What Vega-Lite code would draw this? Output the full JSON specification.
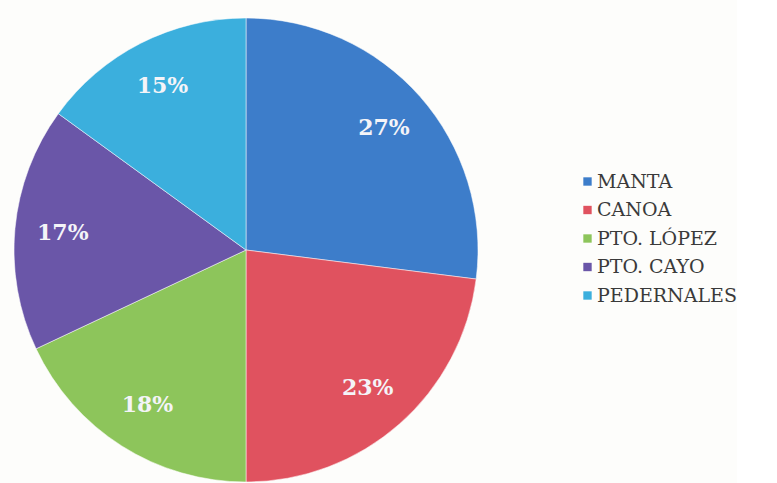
{
  "$schema": "https://vega.github.io/schema/vega-lite/v6.json",
  "width": 492,
  "height": 500,
  "padding": 0,
  "autosize": {"type": "pad"},
  "background": "#fdfdfb",
  "view": {"stroke": null},
  "data": {"values": [
    {"zona": "MANTA", "pct": 27, "etiqueta": "27%", "idx": 1},
    {"zona": "CANOA", "pct": 23, "etiqueta": "23%", "idx": 2},
    {"zona": "PTO. LÓPEZ", "pct": 18, "etiqueta": "18%", "idx": 3},
    {"zona": "PTO. CAYO", "pct": 17, "etiqueta": "17%", "idx": 4},
    {"zona": "PEDERNALES", "pct": 15, "etiqueta": "15%", "idx": 5}
  ]},
  "encoding": {
    "theta": {"field": "pct", "type": "quantitative", "stack": true},
    "order": {"field": "idx", "type": "quantitative"},
    "color": {
      "field": "zona", "type": "nominal",
      "sort": ["MANTA", "CANOA", "PTO. LÓPEZ", "PTO. CAYO", "PEDERNALES"],
      "scale": {
        "domain": ["MANTA", "CANOA", "PTO. LÓPEZ", "PTO. CAYO", "PEDERNALES"],
        "range": ["#3d7dca", "#e0525f", "#8dc55b", "#6a56a8", "#3bafdd"]
      },
      "legend": {
        "title": null,
        "orient": "none",
        "legendX": 578,
        "legendY": 172,
        "symbolType": "square",
        "symbolSize": 70,
        "symbolStrokeWidth": 0,
        "labelFont": "DejaVu Serif, Liberation Serif, serif",
        "labelFontSize": 19,
        "labelColor": "#3a3a3a",
        "labelOffset": 0,
        "rowPadding": 8.5,
        "labelLimit": 300
      }
    }
  },
  "layer": [
    {
      "mark": {"type": "arc", "outerRadius": 232, "stroke": "#ffffff", "strokeWidth": 1, "strokeOpacity": 0.5}
    },
    {
      "mark": {"type": "text", "radius": 184, "font": "DejaVu Serif, Liberation Serif, serif", "fontSize": 22, "fontWeight": "bold"},
      "encoding": {
        "text": {"field": "etiqueta", "type": "nominal"},
        "color": {"value": "#f4f4f8"}
      }
    }
  ]
}
